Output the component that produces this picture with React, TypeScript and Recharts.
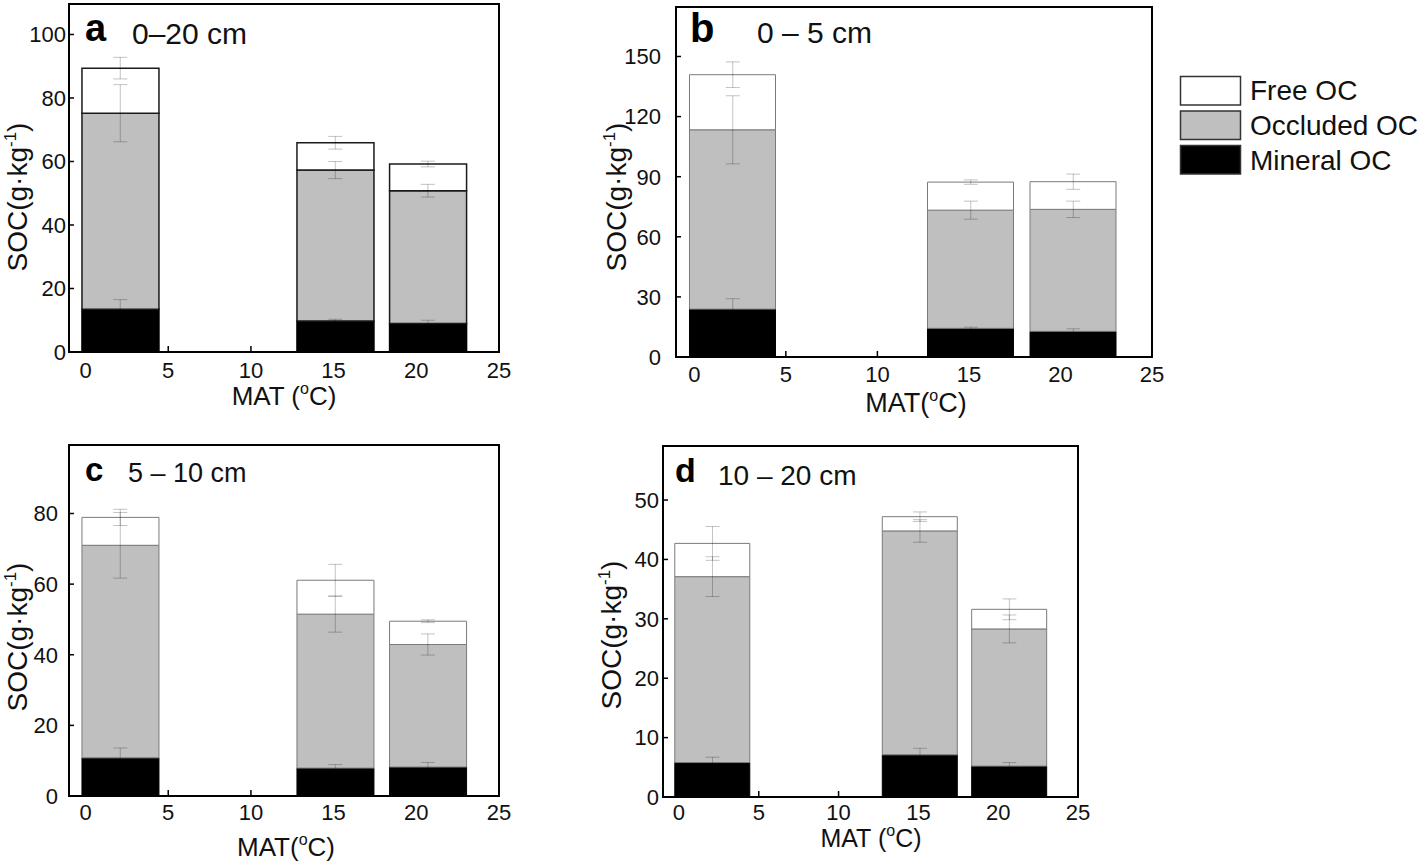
import React from "react";
import { ComposedChart, Bar, Scatter, ErrorBar, XAxis, YAxis, ReferenceArea } from "recharts";

const FONT = '"Liberation Sans", Arial, Helvetica, sans-serif';

// MAT of the three sites (same in every panel)
const MAT = [2.1, 15.1, 20.7];
const X_TICKS = [0, 5, 10, 15, 20, 25];

// a: 0–20 cm
const A_MINERAL = [13.5, 9.8, 9.0];
const A_OCCLUDED = [61.7, 47.5, 41.8];
const A_FREE = [14.2, 8.6, 8.4];
const A_MINERAL_SE = [3.0, 0.5, 1.0];
const A_OCCLUDED_SE = [9.0, 2.7, 2.0];
const A_FREE_SE = [3.4, 2.0, 0.9];
const A_Y_TICKS = [0, 20, 40, 60, 80, 100];

// b: 0–5 cm
const B_MINERAL = [23.9, 14.3, 12.8];
const B_OCCLUDED = [89.5, 59.0, 60.9];
const B_FREE = [27.5, 14.0, 13.8];
const B_MINERAL_SE = [5.2, 0.6, 1.3];
const B_OCCLUDED_SE = [17.0, 4.5, 4.1];
const B_FREE_SE = [6.4, 1.1, 3.8];
const B_Y_TICKS = [0, 30, 60, 90, 120, 150];

// c: 5–10 cm
const C_MINERAL = [10.8, 7.9, 8.2];
const C_OCCLUDED = [60.2, 43.6, 34.7];
const C_FREE = [7.9, 9.6, 6.6];
const C_MINERAL_SE = [2.8, 1.0, 1.3];
const C_OCCLUDED_SE = [9.3, 5.1, 3.0];
const C_FREE_SE = [2.3, 4.5, 0.4];
const C_Y_TICKS = [0, 20, 40, 60, 80];

// d: 10–20 cm
const D_MINERAL = [5.8, 7.1, 5.2];
const D_OCCLUDED = [31.3, 37.7, 23.1];
const D_FREE = [5.6, 2.4, 3.3];
const D_MINERAL_SE = [0.9, 1.1, 0.6];
const D_OCCLUDED_SE = [3.35, 1.9, 2.35];
const D_FREE_SE = [2.85, 0.8, 1.75];
const D_Y_TICKS = [0, 10, 20, 30, 40, 50];

const LEGEND = [
  { name: "Free OC", fill: "#ffffff" },
  { name: "Occluded OC", fill: "#bfbfbf" },
  { name: "Mineral OC", fill: "#000000" },
];

const Y_AXIS_W = 80;
const X_AXIS_H = 72;
const ERR_STROKE = "rgba(0,0,0,0.24)";

interface PanelDef {
  letter: string;
  depth: string;
  plot: { x: number; y: number; w: number; h: number };
  yMax: number;
  yTicks: number[];
  mineral: number[];
  occluded: number[];
  free: number[];
  mineralSe: number[];
  occludedSe: number[];
  freeSe: number[];
  barSize: number;
  edge: string;
  edgeWidth: number;
  yTickGap: number;
  xTickGap: number;
  xTitle: { x: number; y: number; size: number; prefix: string };
  yTitle: { x: number; y: number };
  letterPos: { x: number; y: number; size: number };
  depthPos: { x: number; y: number; size: number };
}

const PANELS: PanelDef[] = [
  {
    letter: "a",
    depth: "0–20 cm",
    plot: { x: 69, y: 4, w: 430, h: 348 },
    yMax: 109.6,
    yTicks: A_Y_TICKS,
    mineral: A_MINERAL,
    occluded: A_OCCLUDED,
    free: A_FREE,
    mineralSe: A_MINERAL_SE,
    occludedSe: A_OCCLUDED_SE,
    freeSe: A_FREE_SE,
    barSize: 77,
    edge: "#1a1a1a",
    edgeWidth: 1.5,
    yTickGap: 3,
    xTickGap: 10,
    xTitle: { x: 284, y: 405, size: 26, prefix: "MAT (" },
    yTitle: { x: 27, y: 197 },
    letterPos: { x: 85, y: 41, size: 38 },
    depthPos: { x: 132, y: 43.5, size: 30 },
  },
  {
    letter: "b",
    depth: "0 – 5 cm",
    plot: { x: 676, y: 7, w: 476, h: 350 },
    yMax: 174.7,
    yTicks: B_Y_TICKS,
    mineral: B_MINERAL,
    occluded: B_OCCLUDED,
    free: B_FREE,
    mineralSe: B_MINERAL_SE,
    occludedSe: B_OCCLUDED_SE,
    freeSe: B_FREE_SE,
    barSize: 86,
    edge: "#7a7a7a",
    edgeWidth: 1,
    yTickGap: 15,
    xTickGap: 9,
    xTitle: { x: 916, y: 412, size: 27, prefix: "MAT(" },
    yTitle: { x: 626, y: 197 },
    letterPos: { x: 690, y: 42, size: 40 },
    depthPos: { x: 757, y: 43, size: 30 },
  },
  {
    letter: "c",
    depth: "5 – 10 cm",
    plot: { x: 69, y: 445, w: 430, h: 351 },
    yMax: 99.4,
    yTicks: C_Y_TICKS,
    mineral: C_MINERAL,
    occluded: C_OCCLUDED,
    free: C_FREE,
    mineralSe: C_MINERAL_SE,
    occludedSe: C_OCCLUDED_SE,
    freeSe: C_FREE_SE,
    barSize: 77,
    edge: "#7a7a7a",
    edgeWidth: 1,
    yTickGap: 11,
    xTickGap: 8,
    xTitle: { x: 286, y: 856, size: 26, prefix: "MAT(" },
    yTitle: { x: 27, y: 637 },
    letterPos: { x: 85, y: 480.5, size: 33 },
    depthPos: { x: 128, y: 482, size: 27 },
  },
  {
    letter: "d",
    depth: "10 – 20 cm",
    plot: { x: 663, y: 446, w: 415, h: 351 },
    yMax: 59.1,
    yTicks: D_Y_TICKS,
    mineral: D_MINERAL,
    occluded: D_OCCLUDED,
    free: D_FREE,
    mineralSe: D_MINERAL_SE,
    occludedSe: D_OCCLUDED_SE,
    freeSe: D_FREE_SE,
    barSize: 75,
    edge: "#7a7a7a",
    edgeWidth: 1,
    yTickGap: 4,
    xTickGap: 7,
    xTitle: { x: 871, y: 847, size: 25, prefix: "MAT (" },
    yTitle: { x: 621, y: 635 },
    letterPos: { x: 675, y: 482, size: 34 },
    depthPos: { x: 718, y: 485, size: 28 },
  },
];

const noMarker = () => <g />;

function Panel({ p }: { p: PanelDef }) {
  const ox = p.plot.x - Y_AXIS_W;
  const oy = p.plot.y - 8;

  const rows = MAT.map((mat, i) => ({
    mat,
    mineral: p.mineral[i],
    occluded: p.occluded[i],
    free: p.free[i],
  }));
  // error bars sit on the top of each stacked segment
  const mineralErr = MAT.map((mat, i) => ({ mat, top: p.mineral[i], err: p.mineralSe[i] }));
  const occludedErr = MAT.map((mat, i) => ({
    mat,
    top: p.mineral[i] + p.occluded[i],
    err: p.occludedSe[i],
  }));
  const freeErr = MAT.map((mat, i) => ({
    mat,
    top: p.mineral[i] + p.occluded[i] + p.free[i],
    err: p.freeSe[i],
  }));

  const tickFont = { fontSize: 22, fill: "#111", fontFamily: FONT };
  const frame = { stroke: "#000", strokeWidth: 2 };

  const xTitle = () => (
    <text
      x={p.xTitle.x - ox}
      y={p.xTitle.y - oy}
      textAnchor="middle"
      fontSize={p.xTitle.size}
      fontFamily={FONT}
      fill="#111"
    >
      {p.xTitle.prefix}
      <tspan dy={-11} fontSize={16}>o</tspan>
      <tspan dy={11}>C)</tspan>
    </text>
  );

  const yx = p.yTitle.x - ox;
  const yy = p.yTitle.y - oy;
  const yTitle = () => (
    <text
      x={yx}
      y={yy}
      transform={`rotate(-90 ${yx} ${yy})`}
      textAnchor="middle"
      fontSize={28}
      fontFamily={FONT}
      fill="#111"
    >
      SOC(g·kg
      <tspan dy={-11} fontSize={17}>-1</tspan>
      <tspan dy={11}>)</tspan>
    </text>
  );

  return (
    <div style={{ position: "absolute", left: ox, top: oy }}>
      <ComposedChart
        width={p.plot.w + Y_AXIS_W + 12}
        height={p.plot.h + 8 + X_AXIS_H}
        data={rows}
        margin={{ top: 8, right: 12, bottom: 0, left: 0 }}
      >
        <XAxis
          dataKey="mat"
          type="number"
          domain={[-1, 25]}
          ticks={X_TICKS}
          allowDataOverflow
          height={X_AXIS_H}
          tick={tickFont}
          tickSize={-6}
          tickMargin={p.xTickGap + 6}
          axisLine={frame}
          tickLine={{ stroke: "#000", strokeWidth: 1.5 }}
          label={xTitle}
        />
        <YAxis
          type="number"
          domain={[0, p.yMax]}
          ticks={p.yTicks}
          allowDataOverflow
          width={Y_AXIS_W}
          tick={tickFont}
          tickSize={-5}
          tickMargin={p.yTickGap + 5}
          axisLine={frame}
          tickLine={{ stroke: "#000", strokeWidth: 1.5 }}
          label={yTitle}
        />

        <Bar
          dataKey="mineral"
          stackId="soc"
          fill="#000"
          stroke="#000"
          strokeWidth={p.edgeWidth}
          barSize={p.barSize}
          isAnimationActive={false}
        />
        <Bar
          dataKey="occluded"
          stackId="soc"
          fill="#bfbfbf"
          stroke={p.edge}
          strokeWidth={p.edgeWidth}
          barSize={p.barSize}
          isAnimationActive={false}
        />
        <Bar
          dataKey="free"
          stackId="soc"
          fill="#fff"
          stroke={p.edge}
          strokeWidth={p.edgeWidth}
          barSize={p.barSize}
          isAnimationActive={false}
        />

        {[mineralErr, occludedErr, freeErr].map((d, k) => (
          <Scatter key={k} data={d} dataKey="top" shape={noMarker} isAnimationActive={false}>
            <ErrorBar
              dataKey="err"
              direction="y"
              width={7}
              stroke={ERR_STROKE}
              strokeWidth={1}
              isAnimationActive={false}
            />
          </Scatter>
        ))}

        {/* box frame around the plot */}
        <ReferenceArea
          x1={-1}
          x2={25}
          y1={0}
          y2={p.yMax}
          fill="none"
          fillOpacity={0}
          stroke="#000"
          strokeWidth={2}
          ifOverflow="visible"
        />
      </ComposedChart>
    </div>
  );
}

export default function App() {
  return (
    <div
      style={{
        position: "fixed",
        left: 0,
        top: 0,
        width: 1418,
        height: 868,
        background: "#fff",
        overflow: "hidden",
        fontFamily: FONT,
      }}
    >
      {PANELS.map((p) => (
        <Panel key={p.letter} p={p} />
      ))}

      <svg
        width={1418}
        height={868}
        style={{ position: "absolute", left: 0, top: 0, pointerEvents: "none" }}
      >
        {PANELS.map((p) => (
          <g key={p.letter}>
            <text
              x={p.letterPos.x}
              y={p.letterPos.y}
              fontSize={p.letterPos.size}
              fontWeight="bold"
              fontFamily={FONT}
              fill="#000"
            >
              {p.letter}
            </text>
            <text
              x={p.depthPos.x}
              y={p.depthPos.y}
              fontSize={p.depthPos.size}
              fontFamily={FONT}
              fill="#111"
            >
              {p.depth}
            </text>
          </g>
        ))}

        {LEGEND.map((item, i) => (
          <g key={item.name}>
            <rect
              x={1180.5}
              y={76.5 + i * 34.5}
              width={60}
              height={28.5}
              fill={item.fill}
              stroke="#333"
              strokeWidth={1.5}
            />
            <text x={1250} y={100 + i * 35} fontSize={28} fontFamily={FONT} fill="#111">
              {item.name}
            </text>
          </g>
        ))}
      </svg>
    </div>
  );
}
